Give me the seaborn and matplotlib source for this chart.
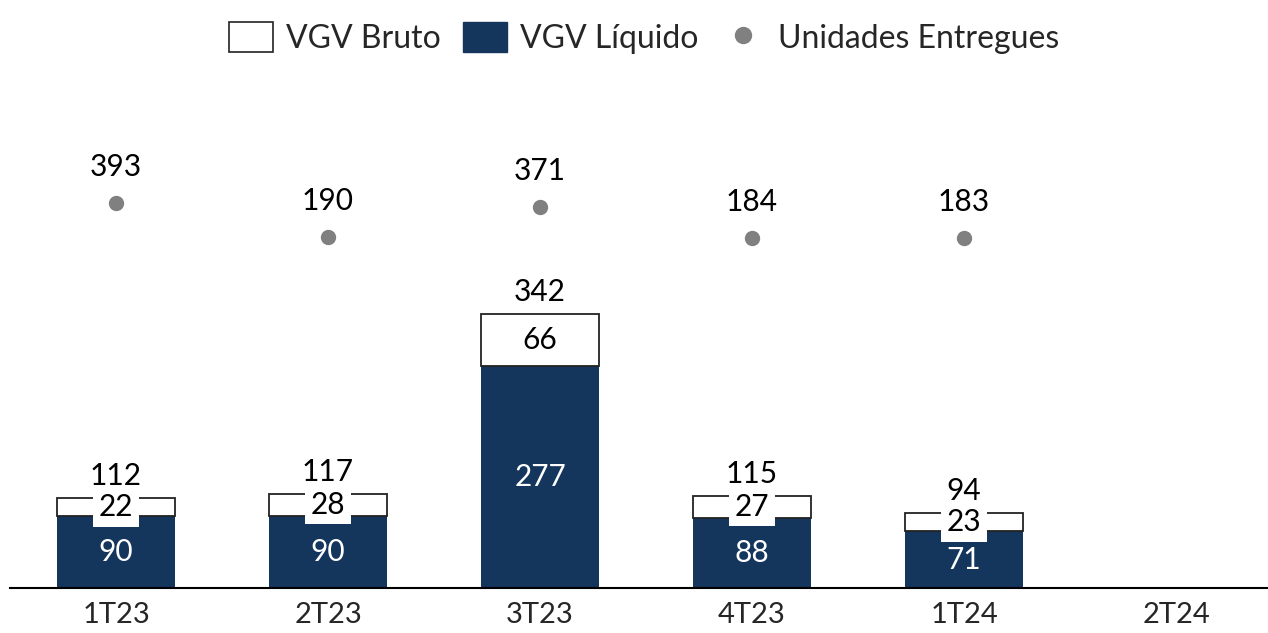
import matplotlib
matplotlib.use("Agg")
import matplotlib.pyplot as plt
from matplotlib.patches import Patch
from matplotlib.lines import Line2D
import numpy as np
import seaborn as sns

quarters = ["1T23", "2T23", "3T23", "4T23", "1T24", "2T24"]
vgv_bruto = [112, 117, 342, 115, 94, np.nan]
vgv_liquido = [90, 90, 277, 88, 71, np.nan]
vgv_diff = [22, 28, 66, 27, 23, np.nan]
unidades = [393, 190, 371, 184, 183, np.nan]

navy = "#14365d"
gray = "#808080"

sns.set_style("white")
plt.rcParams["font.family"] = ["Lato", "DejaVu Sans"]

fig = plt.figure(figsize=(12.68, 6.33), dpi=100)
ax = fig.add_axes([10 / 1268, 45 / 633, 1 - 10 / 1268, 528 / 633])

bw = 0.557
sns.barplot(x=quarters, y=vgv_liquido, color=navy, width=bw, saturation=1,
            linewidth=0, ax=ax)
pos = np.arange(len(quarters))
ax.bar(pos, vgv_diff, bottom=vgv_liquido, width=bw, color="white",
       edgecolor="#222222", linewidth=1.3, zorder=3)

fs = 21.5
for i in range(len(quarters)):
    if np.isnan(vgv_liquido[i]):
        continue
    liq = vgv_liquido[i]
    d = vgv_diff[i]
    ax.text(i, liq / 2, f"{liq:.0f}", ha="center", va="center",
            color="white", fontsize=fs, zorder=5)
    ax.text(i, liq + d / 2, f"{d:.0f}", ha="center", va="center",
            color="black", fontsize=fs, zorder=5,
            bbox=dict(facecolor="white", edgecolor="none", pad=4))
    ax.text(i, liq + d + 10, f"{vgv_bruto[i]:.0f}", ha="center", va="bottom",
            color="black", fontsize=fs, zorder=5)

ax.set_yticks([])
ax.set_ylabel("")
for s in ["top", "left", "right"]:
    ax.spines[s].set_visible(False)
ax.spines["bottom"].set_color("black")
ax.spines["bottom"].set_linewidth(1.5)
ax.tick_params(axis="x", length=0, labelsize=21, pad=10)

ax2 = ax.twinx()
sns.pointplot(x=quarters, y=unidades, color=gray, linestyle="none",
              markers="o", markersize=9, ax=ax2)
ax2.set_ylim(-1917, 1251)
ax2.set_yticks([])
ax2.set_ylabel("")
for s in ["top", "left", "right", "bottom"]:
    ax2.spines[s].set_visible(False)
for i, u in enumerate(unidades):
    if np.isnan(u):
        continue
    ax2.text(i, u + 130, f"{u:.0f}", ha="center", va="bottom",
             color="black", fontsize=fs)

ax.set_ylim(0, 660)
ax.set_xlim(-0.5, 5.5 - 14 / 212)

handles = [
    Patch(facecolor="white", edgecolor="#222222", linewidth=1.2, label="VGV Bruto"),
    Patch(facecolor=navy, edgecolor=navy, label="VGV Líquido"),
    Line2D([], [], marker="o", color=gray, linestyle="none", markersize=11.5,
           label="Unidades Entregues"),
]
fig.legend(handles=handles, loc="upper center", bbox_to_anchor=(0.508, 1.01),
           ncol=3, frameon=False, fontsize=23, handlelength=1.38,
           handleheight=1.05, columnspacing=0.7, handletextpad=0.4)

fig.savefig("out.png", dpi=100)
